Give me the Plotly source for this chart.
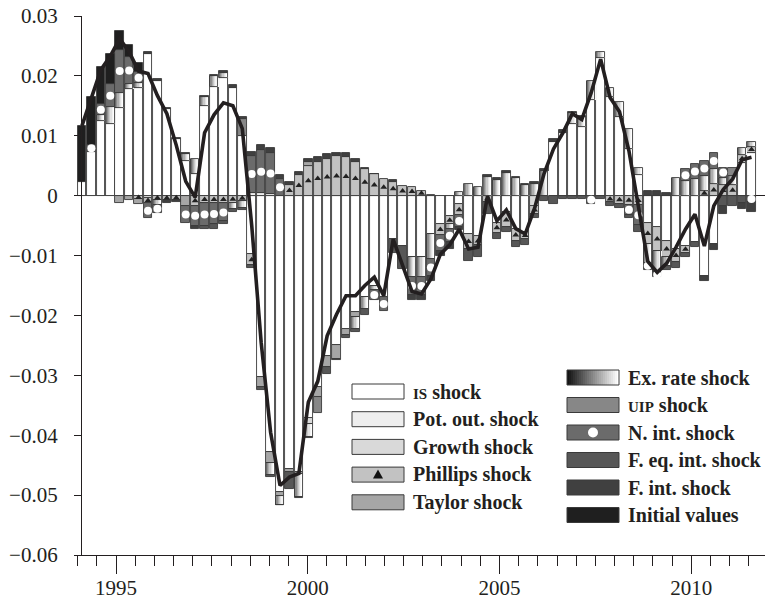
import numpy as np
import plotly.graph_objects as go

# ---------------- data ----------------
years = list(range(1994, 2012))
quarters = [f"{y}Q{q}" for y in years for q in (1, 2, 3, 4)]

year_ticks = [1995, 2000, 2005, 2010]
year_labels = ["1995", "2000", "2005", "2010"]
y_ticks = [0.03, 0.02, 0.01, 0.0, -0.01, -0.02, -0.03, -0.04, -0.05, -0.06]
y_labels = ["0.03", "0.02", "0.01", "0", "\u22120.01", "\u22120.02",
            "\u22120.03", "\u22120.04", "\u22120.05", "\u22120.06"]

is_shock = [
    0.0023, 0.0073, 0.0125, 0.0120, 0.0147, 0.0178, 0.0180, 0.0236,
    0.0192, 0.0145, 0.0094, 0.0058, 0.0036, 0.0150, 0.0182, 0.0197,
    0.0180, 0.0100, -0.0098, -0.0303, -0.0428, -0.0494, -0.0456, -0.0461,
    -0.0372, -0.0320, -0.0267, -0.0250, -0.0222, -0.0195, -0.0170, -0.0150,
    -0.0169, -0.0073, -0.0084, -0.0103, -0.0103, -0.0064, -0.0048, -0.0034,
    -0.0014, -0.0064, -0.0068, 0.0, -0.0045, -0.0028, -0.0056, -0.0061,
    0.0, 0.0, 0.0089, 0.0105, 0.0120, 0.0114, 0.0160, 0.0230,
    0.0165, 0.0131, 0.0078, 0.0035, -0.0045, -0.0053, -0.0075, -0.0089,
    -0.0084, -0.0078, -0.0134, -0.0081, 0.0, 0.0, 0.0055, 0.0072,
]
pot_out_shock = [
    0, 0, 0, 0, 0, 0, 0, 0,
    0, 0, 0, 0, 0, 0, 0, 0,
    0, 0, 0.0005, 0.0004, 0.0002, 0, 0, 0,
    0, 0, 0, 0, 0, 0, 0, 0,
    0, 0, 0, 0, 0, 0, 0, 0,
    0, 0, 0, 0, 0, 0, 0, 0,
    0, 0, 0, 0, 0, 0, 0, 0,
    0, 0, 0, 0, 0, 0, 0, 0,
    0, 0, 0, 0, 0, 0, 0, 0,
]
growth_shock = [
    0, 0, 0, 0, 0, 0, 0, -0.0004,
    0, 0, 0, 0, 0, 0, 0, 0,
    0, 0, 0, 0, 0, 0, 0, 0,
    -0.0009, 0, 0, 0, 0, 0, 0, 0,
    0, 0, 0, 0, 0, 0, 0, 0,
    0, 0, 0, 0, 0, 0, 0, 0,
    -0.0018, 0, 0, 0, 0, 0, 0, 0,
    0, 0, 0, 0, 0, 0, 0, 0,
    0, 0, 0, 0, 0, 0, 0, 0,
]
phillips_shock = [
    0, 0, 0, 0, 0, 0, -0.0006, -0.0008,
    -0.0008, -0.0008, -0.0007, 0, -0.0017, -0.0013, -0.0013, -0.0013,
    -0.0012, -0.0009, -0.0018, 0, 0, 0, 0.0017, 0.0034,
    0.0050, 0.0057, 0.0062, 0.0066, 0.0064, 0.0057, 0.0045, 0.0036,
    0.0028, 0.0023, 0.0016, 0.0014, 0.0008, 0.0001, -0.0017, -0.0014,
    -0.0019, -0.0025, -0.0015, -0.0010, -0.0017, -0.0025, -0.0019, -0.0011,
    -0.0012, 0, 0, 0, 0, 0, 0, 0,
    -0.0011, -0.0014, -0.0015, -0.0016, -0.0036, -0.0039, -0.0028, -0.0022,
    -0.0011, 0, 0.0008, 0.0019, 0.0017, 0.0018, 0.0013, 0.0010,
]
taylor_shock = [
    0, 0, 0, 0, -0.0012, -0.0008, -0.0008, 0,
    0, 0, 0, -0.0018, 0, 0, 0, 0,
    0, 0, 0, -0.0017, -0.0019, -0.0008, -0.0006, -0.0003,
    0.0006, -0.0017, -0.0019, -0.0022, -0.0010, -0.0008, 0, 0,
    0, 0, 0, 0, 0, 0, 0, 0,
    0, 0, 0, 0, 0, 0, 0, 0,
    0, 0, 0, 0, 0, 0, 0, 0,
    0, 0, 0, 0, 0, 0, 0, 0,
    0, 0, 0, 0, 0, 0, 0, 0,
]
ex_rate_shock = [
    0, 0, 0.0009, 0.0028, 0.0025, 0.0008, 0.0008, 0,
    -0.0007, 0, 0, 0.0011, 0.0025, 0.0014, 0.0017, 0.0008,
    -0.0010, -0.0012, 0, 0, -0.0019, -0.0014, 0, -0.0039,
    -0.0022, 0, 0, 0, 0, -0.0020, -0.0020, -0.0008,
    0, 0, 0, -0.0033, -0.0033, -0.0042, 0, -0.0008,
    0.0006, 0.0019, 0.0015, 0.0031, 0.0026, 0.0038, 0.0029, 0.0017,
    0.0019, 0.0041, 0, 0, 0.0018, 0.0017, 0.0032, 0.0010,
    0.0014, 0.0026, 0.0034, 0.0012, -0.0031, -0.0036, -0.0015, 0.0030,
    0.0024, 0.0028, 0.0025, 0.0025, 0.0013, 0.0015, 0.0012, 0.0008,
]
uip_shock = [
    0, 0, 0, 0, 0, 0, 0, 0,
    0, 0, 0, 0, 0, 0, 0, 0,
    0, 0.0028, 0, 0, 0, 0, 0, 0,
    0, -0.0026, 0, 0, 0, 0, 0, 0,
    0, 0, 0, 0, 0, 0, 0, 0,
    0, 0, 0, 0, 0, 0, 0, 0,
    0, 0, 0, 0, 0, 0, 0, 0,
    0, 0, 0, 0, 0, 0, 0, 0,
    0, 0, 0, 0, 0, 0.0014, 0, 0,
]
n_int_shock = [
    0, 0.0012, 0.0019, 0.0038, 0.0072, 0.0046, 0.0018, -0.0026,
    -0.0014, 0, 0, -0.0027, -0.0033, -0.0037, -0.0035, -0.0030,
    0, 0, 0.0062, 0.0072, 0.0070, 0.0028, 0, 0,
    0, 0, 0, 0, 0, 0, 0, -0.0016,
    -0.0024, 0, 0, -0.0030, -0.0030, -0.0028, -0.0028, -0.0022,
    -0.0019, 0, 0, 0, 0, 0, 0, 0,
    0, 0, 0, 0, 0, 0, -0.0014, 0,
    0, 0, -0.0017, -0.0033, -0.0010, -0.0008, 0, 0,
    0.0020, 0.0025, 0.0025, 0.0028, 0.0017, 0, 0, -0.0011,
]
f_eq_int_shock = [
    0, 0, 0, 0, 0, 0, 0, 0,
    0, 0.0002, 0.0002, 0, 0, -0.0005, -0.0007, -0.0005,
    -0.0006, -0.0003, -0.0004, -0.0004, -0.0003, -0.0001, -0.0028, -0.0001,
    -0.0001, 0, -0.0012, -0.0002, -0.0005, -0.0005, -0.0009, 0,
    0, -0.0022, -0.0039, 0, 0, 0, 0, 0,
    0, -0.0020, -0.0020, -0.0021, -0.0011, -0.0008, -0.0011, -0.0011,
    -0.0008, -0.0009, -0.0014, -0.0005, -0.0006, -0.0006, 0, -0.0006,
    -0.0006, -0.0007, -0.0006, -0.0012, -0.0002, 0, -0.0006, -0.0010,
    -0.0008, -0.0008, 0, 0, -0.0017, -0.0017, -0.0012, 0,
]
f_int_shock = [
    0, 0, 0, 0, 0, 0, 0, 0.0004,
    0.0003, -0.0004, -0.0004, 0.0002, -0.0006, 0.0002, 0.0003, 0.0004,
    0.0005, 0.0003, 0.0006, 0.0008, 0.0008, 0.0006, 0.0005, 0.0005,
    0.0005, 0.0008, 0.0007, 0.0006, 0.0008, 0.0004, 0.0002, 0.0001,
    0, 0.0003, 0, -0.0009, -0.0009, -0.0008, -0.0008, -0.0011,
    -0.0006, 0, 0, 0.0003, 0.0003, 0.0003, 0.0003, 0.0002,
    0.0003, 0.0003, 0.0005, 0.0005, 0.0002, 0.0002, 0, 0,
    0, 0, 0, 0, 0.0008, 0.0008, 0.0004, 0,
    0, 0, -0.0008, -0.0009, -0.0014, 0, -0.0010, -0.0016,
]
initial_values = [
    0.0094, 0.0079, 0.0062, 0.0050, 0.0031, 0.0020, 0.0016, 0,
    0, 0, 0, 0, 0, 0, 0, 0,
    0, 0, 0, 0, 0, 0, 0, 0,
    0, 0, 0, 0, 0, 0, 0, 0,
    0, 0, 0, 0, 0, 0, 0, 0,
    0, 0, 0, 0, 0, 0, 0, 0,
    0, 0, 0, 0, 0, 0, 0, 0,
    0, 0, 0, 0, 0, 0, 0, 0,
    0, 0, 0, 0, 0, 0, 0, 0,
]
total_line = [
    0.0117, 0.0162, 0.0210, 0.0233, 0.0262, 0.0240, 0.0208, 0.0204,
    0.0167, 0.0137, 0.0084, 0.0024, -0.0003, 0.0105, 0.0135, 0.0155,
    0.0150, 0.0112, -0.0050, -0.0245, -0.0395, -0.0484, -0.0470, -0.0464,
    -0.0345, -0.0310, -0.0234, -0.0198, -0.0167, -0.0167, -0.0150, -0.0136,
    -0.0167, -0.0073, -0.0115, -0.0160, -0.0164, -0.0139, -0.0098, -0.0082,
    -0.0056, -0.0089, -0.0086, -0.0001, -0.0042, -0.0024, -0.0055, -0.0064,
    -0.0021, 0.0037, 0.0078, 0.0105, 0.0137, 0.0127, 0.0172, 0.0228,
    0.0164, 0.0140, 0.0075, -0.0015, -0.0110, -0.0128, -0.0113, -0.0086,
    -0.0056, -0.0031, -0.0084, -0.0017, 0.0010, 0.0028, 0.0060, 0.0064,
]

# ---------------- styling ----------------
FONT = "Liberation Serif"
INK = "#231f20"
OUT = "#3a3a3a"
BW = 0.9
C_IS, C_POT, C_GRO, C_PHI, C_TAY = "#ffffff", "#eeeeee", "#d9d9d9", "#c2c2c2", "#a6a6a6"
C_UIP, C_NINT, C_FEQ, C_FINT, C_INIT = "#878787", "#6b6b6b", "#575757", "#404040", "#1f1f1f"
GRAD = ["#6e6e6e", "#8e8e8e", "#adadad", "#c9c9c9", "#e2e2e2", "#f3f3f3", "#ffffff"]

series = [
    ("IS shock", is_shock, C_IS),
    ("Pot. out. shock", pot_out_shock, C_POT),
    ("Growth shock", growth_shock, C_GRO),
    ("Phillips shock", phillips_shock, C_PHI),
    ("Taylor shock", taylor_shock, C_TAY),
    ("Ex. rate shock", ex_rate_shock, None),
    ("UIP shock", uip_shock, C_UIP),
    ("N. int. shock", n_int_shock, C_NINT),
    ("F. eq. int. shock", f_eq_int_shock, C_FEQ),
    ("F. int. shock", f_int_shock, C_FINT),
    ("Initial values", initial_values, C_INIT),
]

n = len(quarters)
idx = np.arange(n)
pos = np.zeros(n)
neg = np.zeros(n)
bases = {}
fig = go.Figure()

for name, vals, color in series:
    v = np.array(vals, dtype=float)
    b = np.where(v >= 0, pos, neg)
    bases[name] = b.copy()
    pos = pos + np.clip(v, 0, None)
    neg = neg + np.clip(v, None, 0)
    yv = [float(a) if a != 0 else None for a in v]
    if color is None:
        ns = len(GRAD)
        for k, gc in enumerate(GRAD):
            fig.add_trace(go.Bar(x=idx, y=yv, base=b, width=BW / ns * 1.15,
                                 offset=-BW / 2 + k * BW / ns,
                                 marker=dict(color=gc, line=dict(width=0)),
                                 showlegend=False, hoverinfo="skip"))
        fig.add_trace(go.Bar(x=idx, y=yv, base=b, width=BW, offset=-BW / 2,
                             marker=dict(color="rgba(0,0,0,0)", line=dict(color=OUT, width=0.9)),
                             showlegend=False, hoverinfo="skip"))
    else:
        fig.add_trace(go.Bar(x=idx, y=yv, base=b, width=BW, offset=-BW / 2,
                             marker=dict(color=color, line=dict(color=OUT, width=0.9)),
                             showlegend=False, hoverinfo="skip"))

# markers inside Phillips (triangles) and N. int. (circles) segments
phi = np.array(phillips_shock, dtype=float)
m = np.abs(phi) >= 0.0005
fig.add_trace(go.Scatter(x=idx[m], y=(bases["Phillips shock"] + phi / 2)[m], mode="markers",
                         marker=dict(symbol="triangle-up", size=6, color="#222222"),
                         showlegend=False, hoverinfo="skip"))
nin = np.array(n_int_shock, dtype=float)
m2 = np.abs(nin) >= 0.0008
fig.add_trace(go.Scatter(x=idx[m2], y=(bases["N. int. shock"] + nin / 2)[m2], mode="markers",
                         marker=dict(symbol="circle", size=8, color="#ffffff"),
                         showlegend=False, hoverinfo="skip"))

fig.add_trace(go.Scatter(x=idx, y=total_line, mode="lines",
                         line=dict(color=INK, width=3.6), showlegend=False, hoverinfo="skip"))

# invisible helper so that the calendar-year axis (xaxis2) is drawn
fig.add_trace(go.Scatter(x=year_ticks, y=[0] * len(year_ticks), xaxis="x2", yaxis="y",
                         mode="markers", marker=dict(opacity=0, size=1),
                         showlegend=False, hoverinfo="skip"))

# ---------------- manual legend ----------------
L, T, W, H = 77, 16, 688, 539
def px2x(px):
    return (px - L) / W
def px2y(py):
    return (T + H - py) / H

shapes = []
annotations = []
left_items = [("<span style='font-size:15px'>IS</span> shock", C_IS, None),
              ("Pot. out. shock", C_POT, None),
              ("Growth shock", C_GRO, None),
              ("Phillips shock", C_PHI, "tri"),
              ("Taylor shock", C_TAY, None)]
right_items = [("Ex. rate shock", "grad", None),
               ("<span style='font-size:15px'>UIP</span> shock", C_UIP, None),
               ("N. int. shock", C_NINT, "circ"),
               ("F. eq. int. shock", C_FEQ, None),
               ("F. int. shock", C_FINT, None),
               ("Initial values", C_INIT, None)]

def add_item(label, color, mark, sx0, sx1, tx, cy):
    y0, y1 = px2y(cy + 7.5), px2y(cy - 7.5)
    if color == "grad":
        ns = 26
        step = (sx1 - sx0) / ns
        for k in range(ns):
            g = int(20 + (255 - 20) * k / (ns - 1))
            shapes.append(dict(type="rect", xref="paper", yref="paper",
                               x0=px2x(sx0 + step * k), x1=px2x(min(sx1, sx0 + step * (k + 1.6))),
                               y0=y0, y1=y1, fillcolor=f"rgb({g},{g},{g})", line=dict(width=0)))
        shapes.append(dict(type="rect", xref="paper", yref="paper", x0=px2x(sx0), x1=px2x(sx1),
                           y0=y0, y1=y1, line=dict(color=OUT, width=1)))
    else:
        shapes.append(dict(type="rect", xref="paper", yref="paper", x0=px2x(sx0), x1=px2x(sx1),
                           y0=y0, y1=y1, fillcolor=color, line=dict(color=OUT, width=1)))
    cx = (sx0 + sx1) / 2
    if mark == "tri":
        path = (f"M {px2x(cx - 5)},{px2y(cy + 4)} L {px2x(cx + 5)},{px2y(cy + 4)} "
                f"L {px2x(cx)},{px2y(cy - 5)} Z")
        shapes.append(dict(type="path", xref="paper", yref="paper", path=path,
                           fillcolor="#111111", line=dict(width=0)))
    if mark == "circ":
        shapes.append(dict(type="circle", xref="paper", yref="paper",
                           x0=px2x(cx - 5), x1=px2x(cx + 5), y0=px2y(cy + 5), y1=px2y(cy - 5),
                           fillcolor="#ffffff", line=dict(width=0)))
    annotations.append(dict(xref="paper", yref="paper", x=px2x(tx), y=px2y(cy),
                            xanchor="left", yanchor="middle", showarrow=False,
                            text=f"<b>{label}</b>", font=dict(family=FONT, size=20, color=INK)))

for i, (lab, col, mk) in enumerate(left_items):
    add_item(lab, col, mk, 352, 404, 411, 391.5 + 27.7 * i)
for i, (lab, col, mk) in enumerate(right_items):
    add_item(lab, col, mk, 567, 619, 626, 377.5 + 27.5 * i)

# ---------------- layout ----------------
fig.update_layout(
    width=770, height=605,
    margin=dict(l=L, r=770 - L - W, t=T, b=605 - T - H, autoexpand=False),
    barmode="overlay", bargap=0,
    plot_bgcolor="white", paper_bgcolor="white",
    showlegend=False,
    font=dict(family=FONT, color=INK, size=21),
    shapes=shapes, annotations=annotations,
    xaxis=dict(range=[-0.53, 72.43], visible=False, showgrid=False, zeroline=False,
               automargin=False),
    xaxis2=dict(overlaying="x", anchor="y", side="bottom", automargin=False,
                range=[1993.983, 2011.923],
                tickmode="array", tickvals=year_ticks, ticktext=year_labels,
                ticks="outside", ticklen=18, tickwidth=1.3, tickcolor=INK,
                showline=True, linecolor=INK, linewidth=1.3,
                showgrid=False, zeroline=False, ticklabelstandoff=-4,
                tickfont=dict(family=FONT, size=21, color=INK),
                minor=dict(ticks="outside", ticklen=10, tickwidth=1.3, tickcolor=INK,
                           tickmode="linear", tick0=1994.5, dtick=0.5, showgrid=False)),
    yaxis=dict(range=[-0.06, 0.03], anchor="free", position=4 / W, automargin=False,
               tickmode="array", tickvals=y_ticks, ticktext=y_labels,
               ticks="outside", ticklen=7, tickwidth=1.3, tickcolor=INK,
               showline=True, linecolor=INK, linewidth=1.3,
               showgrid=False, zeroline=True, zerolinecolor=INK, zerolinewidth=1,
               ticklabelstandoff=12,
               tickfont=dict(family=FONT, size=21, color=INK)),
)

fig.write_html("out.html")
